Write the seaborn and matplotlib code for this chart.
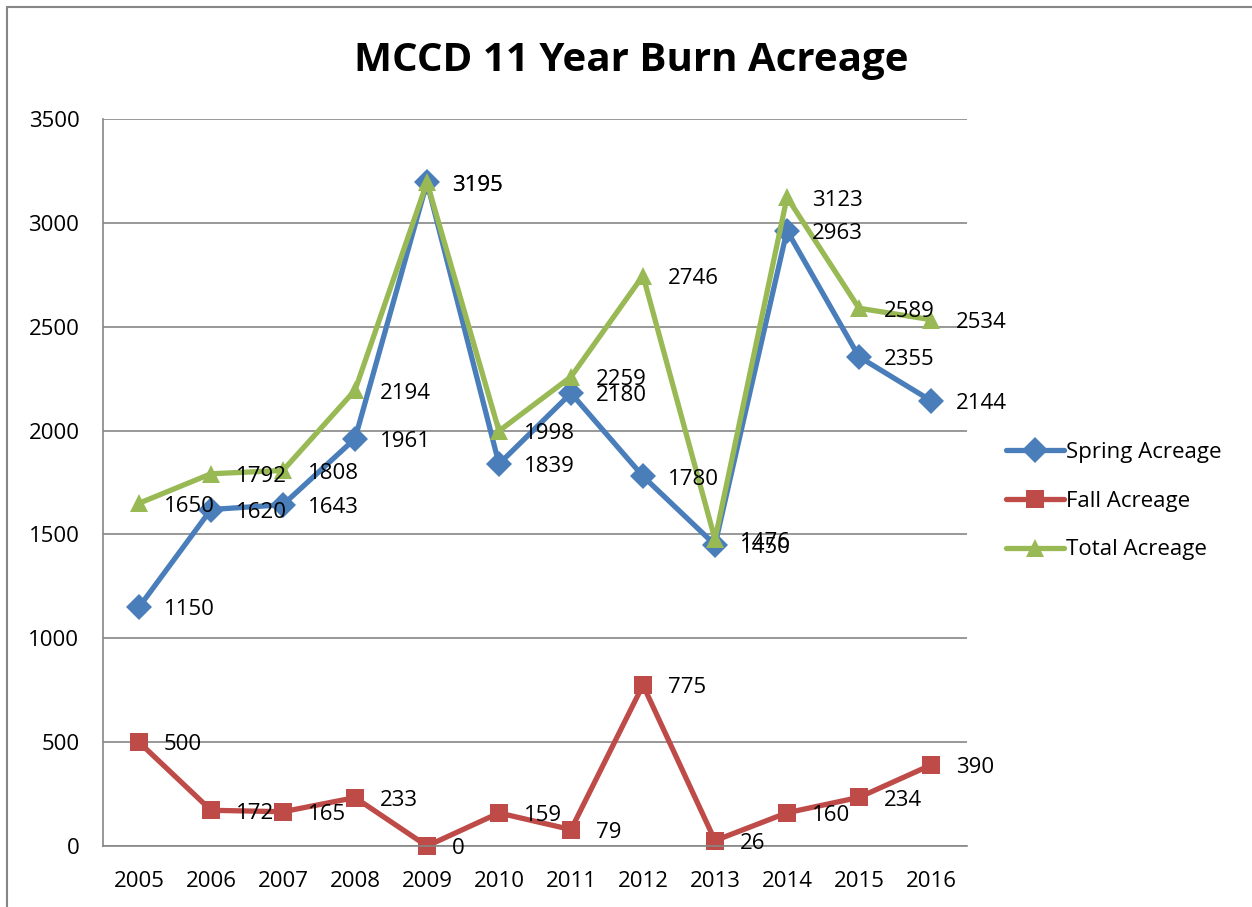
import pandas as pd
import matplotlib
matplotlib.use('Agg')
import matplotlib.pyplot as plt
import seaborn as sns
from matplotlib.patches import Rectangle

years = [2005, 2006, 2007, 2008, 2009, 2010, 2011, 2012, 2013, 2014, 2015, 2016]
spring = [1150, 1620, 1643, 1961, 3195, 1839, 2180, 1780, 1450, 2963, 2355, 2144]
fall = [500, 172, 165, 233, 0, 159, 79, 775, 26, 160, 234, 390]
total = [1650, 1792, 1808, 2194, 3195, 1998, 2259, 2746, 1476, 3123, 2589, 2534]

series_names = ['Spring Acreage', 'Fall Acreage', 'Total Acreage']
colors = {'Spring Acreage': '#4A7EBB', 'Fall Acreage': '#BE4B48', 'Total Acreage': '#98B954'}
markers = {'Spring Acreage': 'D', 'Fall Acreage': 's', 'Total Acreage': '^'}

df = pd.concat([
    pd.DataFrame({'year': years, 'acres': spring, 'series': 'Spring Acreage'}),
    pd.DataFrame({'year': years, 'acres': fall, 'series': 'Fall Acreage'}),
    pd.DataFrame({'year': years, 'acres': total, 'series': 'Total Acreage'}),
])

sns.set_theme(style='white')
plt.rcParams['font.family'] = ['Open Sans', 'DejaVu Sans']
plt.rcParams['text.color'] = 'black'
plt.rcParams['xtick.color'] = 'black'
plt.rcParams['ytick.color'] = 'black'

fig = plt.figure(figsize=(12.52, 9.07), dpi=100)
ax = fig.add_axes([103 / 1252, 1 - 846 / 907, 864 / 1252, 727 / 907])

# outer chart border
fig.patches.append(Rectangle((7 / 1252, -0.01), 1.0, 1 - 7 / 907 + 0.01, transform=fig.transFigure,
                             fill=False, edgecolor='#868686', linewidth=1.5))

sns.lineplot(data=df, x='year', y='acres', hue='series', style='series',
             palette=colors, markers=markers, dashes=False, linewidth=3.8,
             markersize=13.5, markeredgewidth=0, ax=ax, legend=False)

# data labels
for name, vals in zip(series_names, [spring, fall, total]):
    for yr, v in zip(years, vals):
        ax.annotate(str(v), (yr, v), xytext=(18, -2), textcoords='offset points',
                    ha='left', va='center', fontsize=16, color='black')

ax.set_xlim(2004.5, 2016.5)
ax.set_ylim(0, 3500)
ax.set_xticks(years)
ax.set_yticks(range(0, 3501, 500))
ax.set_xlabel('')
ax.set_ylabel('')
ax.tick_params(axis='both', labelsize=16, length=0)
ax.tick_params(axis='y', pad=17)
ax.tick_params(axis='x', pad=18)
ax.yaxis.grid(True, color='#868686', linewidth=1.2)
ax.set_axisbelow(True)
for s in ['top', 'right']:
    ax.spines[s].set_visible(False)
for s in ['left', 'bottom']:
    ax.spines[s].set_color('#868686')
    ax.spines[s].set_linewidth(1.2)
for ln in ax.lines:
    ln.set_clip_on(False)

fig.text(631 / 1252, 1 - 61 / 907, 'MCCD 11 Year Burn Acreage', ha='center', va='center',
         fontsize=29, fontweight='bold', color='black')

handles = [plt.Line2D([], [], color=colors[n], marker=markers[n], linewidth=3.8,
                      markersize=13.5, markeredgewidth=0) for n in series_names]
fig.legend(handles, series_names, loc='center left', bbox_to_anchor=(986 / 1252, 1 - 501 / 907),
           frameon=False, fontsize=16, handlelength=2.6, handletextpad=0.1, labelspacing=1.25)

fig.savefig('out.png', dpi=100)
